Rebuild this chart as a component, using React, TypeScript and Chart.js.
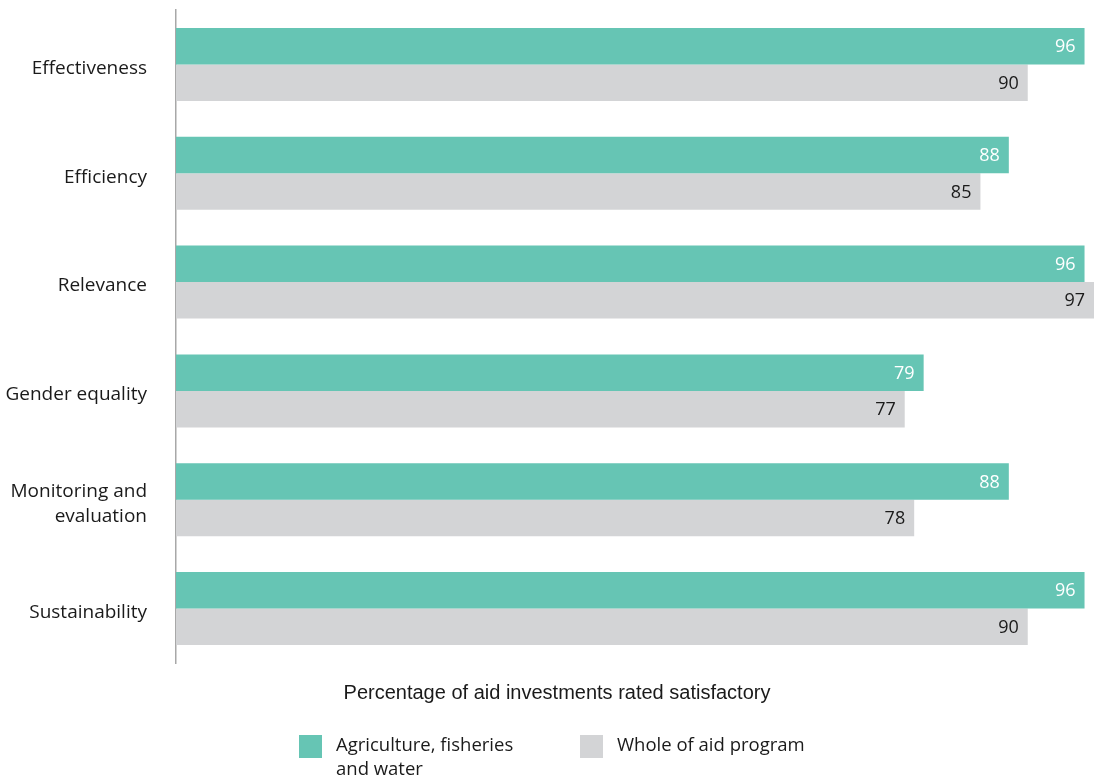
import React, { useEffect, useRef } from "react";
import { Chart, registerables } from "chart.js";

Chart.register(...registerables);

const categories: (string | string[])[] = [
  "Effectiveness",
  "Efficiency",
  "Relevance",
  "Gender equality",
  ["Monitoring and", "evaluation"],
  "Sustainability",
];
const agricultureValues = [96, 88, 96, 79, 88, 96];
const wholeProgramValues = [90, 85, 97, 77, 78, 90];
const seriesNames = ["Agriculture, fisheries and water", "Whole of aid program"];
const legendLines = [["Agriculture, fisheries", "and water"], ["Whole of aid program"]];
const axisTitle = "Percentage of aid investments rated satisfactory";

const TEAL = "#66c5b4";
const GREY = "#d3d4d6";
const LABEL_FONT = "'Open Sans', 'Noto Sans', sans-serif";

const extrasPlugin = {
  id: "extras",
  afterDatasetsDraw(chart: any) {
    const ctx = chart.ctx;
    ctx.save();
    // value labels
    chart.data.datasets.forEach((ds: any, di: number) => {
      const meta = chart.getDatasetMeta(di);
      meta.data.forEach((bar: any, i: number) => {
        ctx.font = `18px ${LABEL_FONT}`;
        ctx.fillStyle = di === 0 ? "#ffffff" : "#1a1a1a";
        ctx.textAlign = "right";
        ctx.textBaseline = "middle";
        ctx.fillText(String(ds.data[i]), bar.x - 9, bar.y + 1);
      });
    });
    // axis title
    ctx.font = "20px 'Liberation Sans', Arial, sans-serif";
    ctx.fillStyle = "#1a1a1a";
    ctx.textAlign = "center";
    ctx.textBaseline = "middle";
    ctx.fillText(axisTitle, 557, 693);
    // legend
    const boxes = [
      { x: 299, color: TEAL },
      { x: 580, color: GREY },
    ];
    boxes.forEach((b, i) => {
      ctx.fillStyle = b.color;
      ctx.fillRect(b.x, 735, 23, 23);
      ctx.fillStyle = "#1a1a1a";
      ctx.font = `18.5px ${LABEL_FONT}`;
      ctx.textAlign = "left";
      ctx.textBaseline = "middle";
      legendLines[i].forEach((line, li) => {
        ctx.fillText(line, b.x + 37, 746 + li * 24);
      });
    });
    ctx.restore();
  },
};

export default function App() {
  const ref = useRef<HTMLCanvasElement | null>(null);
  useEffect(() => {
    if (!ref.current) return;
    const chart = new Chart(ref.current, {
      type: "bar",
      data: {
        labels: categories,
        datasets: [
          {
            label: seriesNames[0],
            data: agricultureValues,
            backgroundColor: TEAL,
            categoryPercentage: 0.67,
            barPercentage: 1,
          },
          {
            label: seriesNames[1],
            data: wholeProgramValues,
            backgroundColor: GREY,
            categoryPercentage: 0.67,
            barPercentage: 1,
          },
        ],
      },
      options: {
        indexAxis: "y",
        animation: false,
        responsive: false,
        layout: { padding: { top: 10, right: 2, bottom: 115, left: 0 } },
        plugins: {
          legend: { display: false },
          tooltip: { enabled: false },
        },
        scales: {
          x: {
            display: false,
            min: 0,
            max: 97,
          },
          y: {
            grid: { display: false, drawTicks: false },
            border: { display: true, color: "#a8a8a8", width: 1.5 },
            ticks: {
              padding: 29,
              labelOffset: 4,
              color: "#1a1a1a",
              font: { size: 19, family: LABEL_FONT, lineHeight: 1.3 },
            },
            afterFit: (scale: any) => {
              scale.width = 176;
              scale.paddingTop = 0;
              scale.paddingBottom = 0;
            },
          },
        },
      },
      plugins: [extrasPlugin],
    });
    return () => chart.destroy();
  }, []);
  return (
    <div style={{ position: "fixed", left: 0, top: 0, width: 1096, height: 778, background: "#fff" }}>
      <canvas ref={ref} width={1096} height={778} style={{ width: 1096, height: 778 }} />
    </div>
  );
}
